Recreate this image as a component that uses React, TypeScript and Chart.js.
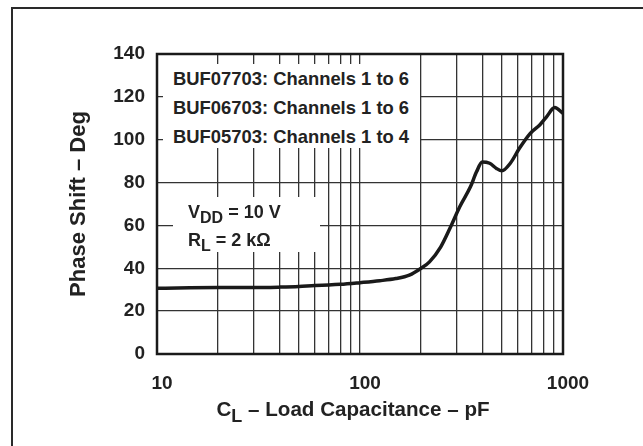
import React, { useEffect, useRef } from "react";
import { Chart, registerables } from "chart.js";

Chart.register(...registerables);

// ---- data ----
const capacitancePF = [10, 20, 30, 40, 50, 60, 70, 80, 100, 125, 150, 175, 200, 220, 250, 280, 310, 350, 375, 400, 435, 470, 500, 550, 610, 690, 770, 830, 910, 1000];
const phaseShiftDeg = [30.7, 31, 31, 31.2, 31.5, 32, 32.2, 32.5, 33.3, 34.2, 35.2, 36.8, 40, 43, 50, 59.5, 68.7, 78, 85, 89.6, 89, 86.6, 85.5, 89, 96, 103, 107, 110.7, 115, 112.3];
const xGridValues = [10, 20, 30, 40, 50, 60, 70, 80, 90, 100, 200, 300, 400, 500, 600, 700, 800, 900, 1000];
const xTickLabels = ["10", "100", "1000"];
const yTickValues = [0, 20, 40, 60, 80, 100, 120, 140];
const deviceNotes = ["BUF07703: Channels 1 to 6", "BUF06703: Channels 1 to 6", "BUF05703: Channels 1 to 4"];
const yTitle = "Phase Shift \u2013 Deg";

const FONT = "'Liberation Sans', Arial, Helvetica, sans-serif";
const INK = "#222";

const plotBorder = {
  id: "plotBorder",
  afterDraw(chart: any) {
    const { ctx, chartArea } = chart;
    const { left, top, right, bottom } = chartArea;
    ctx.save();
    ctx.strokeStyle = "#1a1a1a";
    ctx.lineWidth = 2.5;
    ctx.strokeRect(left, top, right - left, bottom - top);
    ctx.restore();
  },
};

export default function App() {
  const canvasRef = useRef<HTMLCanvasElement | null>(null);

  useEffect(() => {
    if (!canvasRef.current) return;
    const chart = new Chart(canvasRef.current, {
      type: "line",
      data: {
        datasets: [
          {
            data: capacitancePF.map((c, i) => ({ x: c, y: phaseShiftDeg[i] })),
            borderColor: "#1a1a1a",
            borderWidth: 3.5,
            pointRadius: 0,
            cubicInterpolationMode: "monotone",
            fill: false,
          },
        ],
      },
      options: {
        responsive: false,
        animation: false,
        devicePixelRatio: 1,
        layout: { padding: { left: 0, top: 54, right: 80, bottom: 0 } },
        plugins: { legend: { display: false }, tooltip: { enabled: false } },
        scales: {
          x: {
            type: "logarithmic",
            min: 10,
            max: 1000,
            afterBuildTicks: (scale: any) => {
              scale.ticks = xGridValues.map((v) => ({ value: v }));
            },
            afterFit: (scale: any) => {
              scale.height = 92;
            },
            ticks: {
              autoSkip: false,
              maxRotation: 0,
              padding: 18,
              labelOffset: 5,
              color: INK,
              font: { family: FONT, size: 19, weight: "bold" },
              callback: (value: any) => {
                const s = String(value);
                return xTickLabels.includes(s) ? s : "";
              },
            },
            grid: { color: "#333", lineWidth: 1.3, drawTicks: false },
            border: { display: false },
          },
          y: {
            type: "linear",
            min: 0,
            max: 140,
            afterBuildTicks: (scale: any) => {
              scale.ticks = yTickValues.map((v) => ({ value: v }));
            },
            afterFit: (scale: any) => {
              scale.width = 157;
            },
            ticks: {
              padding: 12,
              color: INK,
              font: { family: FONT, size: 19, weight: "bold" },
            },
            grid: { color: "#333", lineWidth: 1.3, drawTicks: false },
            border: { display: false },
            title: {
              display: true,
              text: yTitle,
              color: INK,
              font: { family: FONT, size: 22, weight: "bold" },
              padding: { top: 66, bottom: 0 },
            },
          },
        },
      },
      plugins: [plotBorder],
    });
    return () => chart.destroy();
  }, []);

  const textStyle: React.CSSProperties = {
    fontFamily: FONT,
    fontWeight: "bold",
    color: INK,
    whiteSpace: "nowrap",
  };
  const subStyle: React.CSSProperties = {
    fontSize: "16px",
    verticalAlign: "-5px",
    lineHeight: 0,
  };

  return (
    <div style={{ position: "fixed", left: 0, top: 0, width: 643, height: 446, overflow: "hidden", background: "#fff" }}>
      <div
        style={{
          position: "absolute",
          left: 11,
          top: 7,
          right: -10,
          bottom: -10,
          borderLeft: "2px solid #2a2a2a",
          borderTop: "2px solid #2a2a2a",
        }}
      />
      <canvas ref={canvasRef} width={643} height={446} style={{ position: "absolute", left: 0, top: 0, width: 643, height: 446 }} />
      <div
        style={{
          ...textStyle,
          position: "absolute",
          left: 163,
          top: 64,
          width: 420 - 163,
          height: 148 - 64,
          background: "#fff",
          paddingLeft: 10,
          boxSizing: "border-box",
          fontSize: 18.4,
          lineHeight: "29px",
        }}
      >
        {deviceNotes.map((t) => (
          <div key={t}>{t}</div>
        ))}
      </div>
      <div
        style={{
          ...textStyle,
          position: "absolute",
          left: 173,
          top: 197,
          width: 320 - 173,
          height: 252 - 197,
          background: "#fff",
          paddingLeft: 15,
          paddingTop: 1,
          boxSizing: "border-box",
          fontSize: 18,
          lineHeight: "28px",
        }}
      >
        <div>
          V<sub style={subStyle}>DD</sub> = 10 V
        </div>
        <div>
          R<sub style={subStyle}>L</sub> = 2 k{"\u03A9"}
        </div>
      </div>
      <div
        style={{
          ...textStyle,
          position: "absolute",
          left: 153,
          width: 400,
          top: 397,
          textAlign: "center",
          fontSize: 20.6,
          lineHeight: "24px",
        }}
      >
        C<sub style={{ ...subStyle, fontSize: "18px", verticalAlign: "-6px" }}>L</sub> {"\u2013"} Load Capacitance {"\u2013"} pF
      </div>
    </div>
  );
}
